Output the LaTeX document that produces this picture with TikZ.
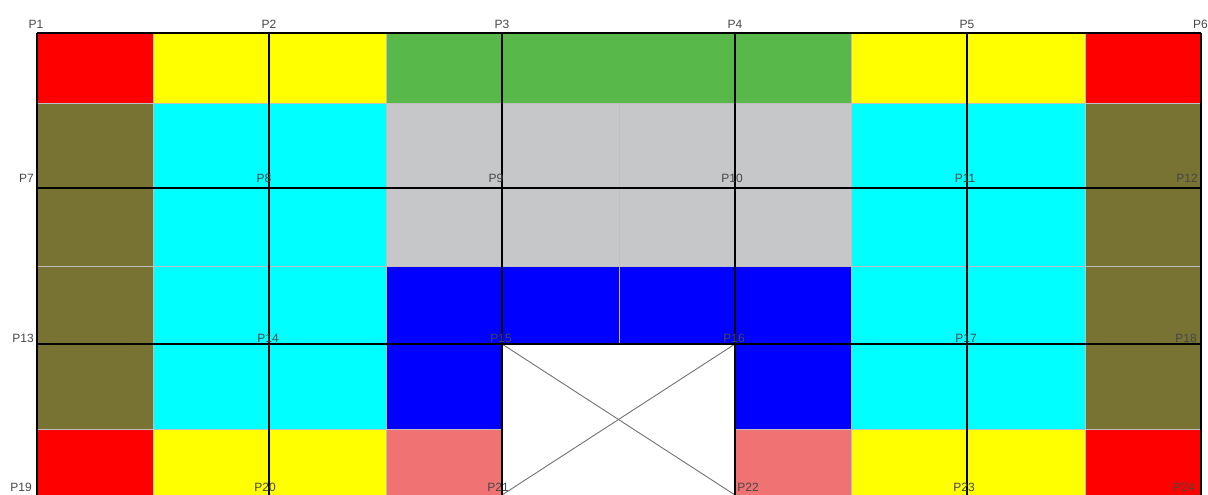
\documentclass[tikz,border=0pt]{standalone}
\usepackage{fontspec}
\setmainfont{Liberation Sans}
\definecolor{cellred}{HTML}{FF0000}
\definecolor{cellyellow}{HTML}{FFFF00}
\definecolor{cellgreen}{HTML}{58B84A}
\definecolor{cellolive}{HTML}{787332}
\definecolor{cellcyan}{HTML}{00FFFF}
\definecolor{cellgray}{HTML}{C5C7C9}
\definecolor{cellblue}{HTML}{0000FF}
\definecolor{cellsalmon}{HTML}{F07272}
\tikzset{cell/.style={draw=black!25, line width=0.4pt},
 gridline/.style={draw=black, line width=1.1pt},
 cross/.style={draw=black!55, line width=0.9pt},
 lbl/.style={text=black!72, font=\fontsize{12}{12}\selectfont, inner sep=0pt},
 }

\begin{document}
\begin{tikzpicture}[x=1pt, y=-1pt]
        \useasboundingbox (0,0) rectangle (1208,495);
        % points
        \coordinate (P1) at (37,33);   \coordinate (P2) at (269,33);
        \coordinate (P3) at (502,33);  \coordinate (P4) at (735,33);
        \coordinate (P5) at (967,33);  \coordinate (P6) at (1201,33);
        \coordinate (P7) at (37,188);  \coordinate (P8) at (269,188);
        \coordinate (P9) at (502,188); \coordinate (P10) at (735,188);
        \coordinate (P11) at (967,188); \coordinate (P12) at (1201,188);
        \coordinate (P13) at (37,344);  \coordinate (P14) at (269,344);
        \coordinate (P15) at (502,344); \coordinate (P16) at (735,344);
        \coordinate (P17) at (967,344); \coordinate (P18) at (1201,344);
        \coordinate (P19) at (37,495);  \coordinate (P20) at (269,495);
        \coordinate (P21) at (502,495); \coordinate (P22) at (735,495);
        \coordinate (P23) at (967,495); \coordinate (P24) at (1201,495);
        % cells, top row
        \fill[cell, fill=cellred] (37,33) rectangle (153,103);
        \fill[cell, fill=cellyellow] (153,33) rectangle (386,103);
        \fill[cell, fill=cellgreen] (386,33) rectangle (851,103);
        \fill[cell, fill=cellyellow] (851,33) rectangle (1085,103);
        \fill[cell, fill=cellred] (1085,33) rectangle (1201,103);
        % cells, middle
        \filldraw[cell, fill=cellolive] (37,103) rectangle (153,266);
        \filldraw[cell, fill=cellolive] (37,266) rectangle (153,429);
        \filldraw[cell, fill=cellcyan] (153,103) rectangle (386,266);
        \filldraw[cell, fill=cellcyan] (153,266) rectangle (386,429);
        \filldraw[cell, fill=cellgray] (386,103) rectangle (619,266);
        \filldraw[cell, fill=cellgray] (619,103) rectangle (851,266);
        \filldraw[cell, fill=cellblue] (386,266) rectangle (619,429);
        \filldraw[cell, fill=cellblue] (619,266) rectangle (851,429);
        \filldraw[cell, fill=cellcyan] (851,103) rectangle (1085,266);
        \filldraw[cell, fill=cellcyan] (851,266) rectangle (1085,429);
        \filldraw[cell, fill=cellolive] (1085,103) rectangle (1201,266);
        \filldraw[cell, fill=cellolive] (1085,266) rectangle (1201,429);
        % cells, bottom row
        \filldraw[cell, fill=cellred] (37,429) rectangle (153,495);
        \filldraw[cell, fill=cellyellow] (153,429) rectangle (386,495);
        \filldraw[cell, fill=cellsalmon] (386,429) rectangle (502,495);
        \filldraw[cell, fill=cellsalmon] (735,429) rectangle (851,495);
        \filldraw[cell, fill=cellyellow] (851,429) rectangle (1085,495);
        \filldraw[cell, fill=cellred] (1085,429) rectangle (1201,495);
        % opening
        \fill[white] (P15) rectangle (P22);
        \draw[cross] (P15) -- (P22);
        \draw[cross] (P16) -- (P21);
        % grid
        \draw[gridline] (P1) -- (P6);
        \draw[gridline] (P7) -- (P12);
        \draw[gridline] (P13) -- (P18);
        \draw[gridline] (P1) -- (P19);
        \draw[gridline] (P2) -- (P20);
        \draw[gridline] (P3) -- (P21);
        \draw[gridline] (P4) -- (P22);
        \draw[gridline] (P5) -- (P23);
        \draw[gridline] (P6) -- (P24);
        % labels
        \node[lbl] (t1) at (36,24) {P1};
        \node[lbl] (t2) at (269,24) {P2};
        \node[lbl] (t3) at (502,24) {P3};
        \node[lbl] (t4) at (735,24) {P4};
        \node[lbl] (t5) at (967,24) {P5};
        \node[lbl, anchor=east] (t6) at (1208,24) {P6};
        \node[lbl, anchor=east] (t7) at (34,178) {P7};
        \node[lbl] (t8) at (264,178) {P8};
        \node[lbl] (t9) at (496,178) {P9};
        \node[lbl] (t10) at (732,178) {P10};
        \node[lbl] (t11) at (965,178) {P11};
        \node[lbl, anchor=east] (t12) at (1198,178) {P12};
        \node[lbl, anchor=east] (t13) at (34,338) {P13};
        \node[lbl] (t14) at (268,338) {P14};
        \node[lbl] (t15) at (501,338) {P15};
        \node[lbl] (t16) at (734,338) {P16};
        \node[lbl] (t17) at (966,338) {P17};
        \node[lbl, anchor=east] (t18) at (1197,338) {P18};
        \node[lbl, anchor=east] (t19) at (32,487) {P19};
        \node[lbl] (t20) at (265,487) {P20};
        \node[lbl] (t21) at (498,487) {P21};
        \node[lbl] (t22) at (748,487) {P22};
        \node[lbl] (t23) at (964,487) {P23};
        \node[lbl, anchor=east] (t24) at (1195,487) {P24};
\end{tikzpicture}
\end{document}
